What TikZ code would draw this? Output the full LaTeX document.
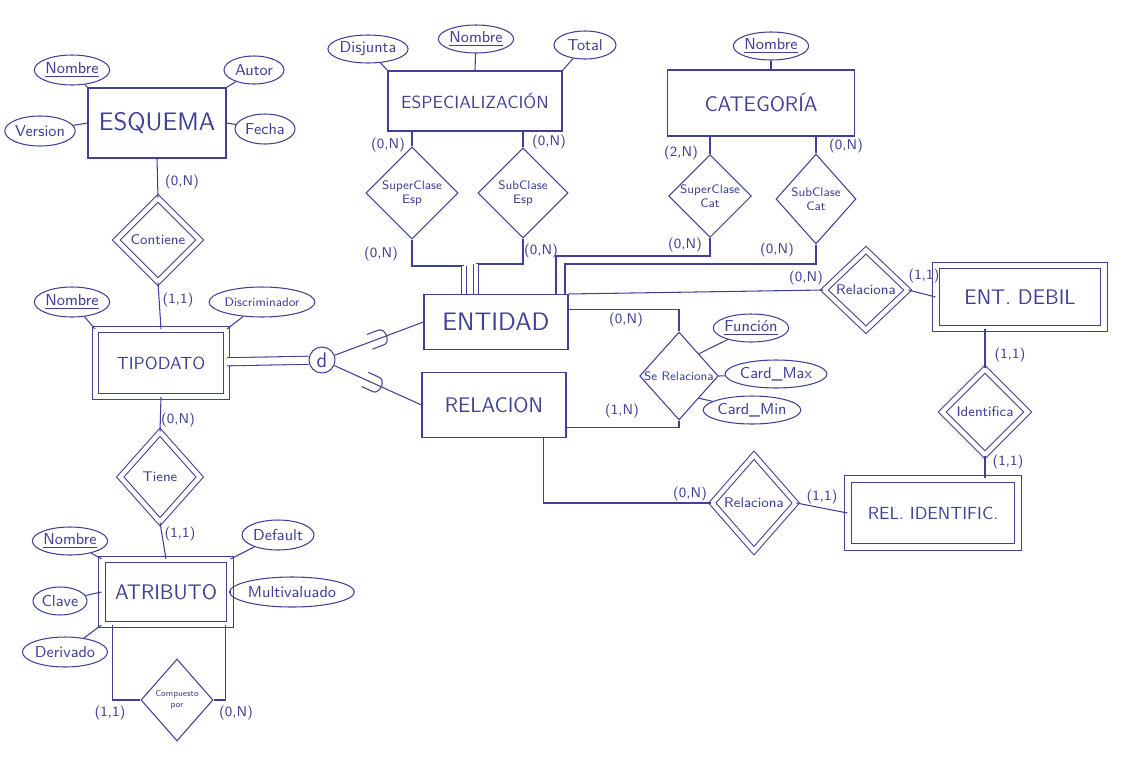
\documentclass[tikz,border=0pt]{standalone}
\usepackage{fontspec}
\renewcommand{\familydefault}{\sfdefault}
\usetikzlibrary{shapes.geometric}
\definecolor{ink}{RGB}{64,64,152}
\tikzset{
  ent/.style={draw, font=\large},
  dent/.style={ent, double, double distance=3pt},
  attr/.style={ellipse, draw, inner sep=0pt, font=\small},
  rel/.style={diamond, draw, aspect=1, inner sep=0pt, font=\scriptsize, align=center},
  drel/.style={rel, double, double distance=2.5pt, font=\footnotesize},
  card/.style={font=\footnotesize},
  subset/.style={sloped, rotate=90, font=\LARGE},
}
\begin{document}
\begin{tikzpicture}[x=0.02cm, y=-0.02cm, ink, line width=0.6pt]
        \useasboundingbox (0,0) rectangle (1127,765);

        % esquema
        \node[ent, font=\Large, minimum width=2.76cm, minimum height=1.4cm] (esq) at (157,123) {ESQUEMA};
        \node[attr, minimum width=1.4cm, minimum height=0.6cm] (esqnom) at (72,70) {\underline{Nombre}};
        \node[attr, minimum width=1.2cm, minimum height=0.56cm] (esqaut) at (254,70) {Autor};
        \node[attr, minimum width=1.32cm, minimum height=0.6cm] (esqver) at (40,131) {Version};
        \node[attr, minimum width=1.2cm, minimum height=0.6cm] (esqfec) at (265,129) {Fecha};
        \draw (esqnom) -- (esq.north west);
        \draw (esqaut) -- (esq.north east);
        \draw (esqver) -- (esq.west);
        \draw (esqfec) -- (esq.east);

        \node[drel, minimum width=1.68cm, minimum height=1.68cm] (cont) at (158,240) {Contiene};
        \draw (esq.south) -- (cont.north);
        \node[card] at (182,182) {(0,N)};

        % tipodato
        \node[dent, font=\normalsize, minimum width=2.62cm, minimum height=1.34cm] (tip) at (161,363) {TIPODATO};
        \node[attr, minimum width=1.4cm, minimum height=0.6cm] (tipnom) at (72,302) {\underline{Nombre}};
        \node[attr, font=\scriptsize, minimum width=2.0cm, minimum height=0.6cm] (tipdis) at (262,302) {Discriminador};
        \draw (tipnom) -- (tip.north west);
        \draw (tipdis) -- (tip.north east);
        \draw (cont.south) -- (tip.north);
        \node[card] at (178,300) {(1,1)};

        \node[circle, draw, inner sep=0pt, minimum size=0.52cm, font=\large] (dcirc) at (322,360) {d};
        \draw[double, double distance=4pt] (tip) -- (dcirc);

        % entidad / relacion
        \node[ent, font=\Large, minimum width=2.88cm, minimum height=1.1cm] (ent) at (496,322) {ENTIDAD};
        \node[ent, minimum width=2.88cm, minimum height=1.3cm] (rela) at (494,405) {RELACION};
        \draw (dcirc) -- node[subset, pos=0.5] {$\cup$} (ent.west);
        \draw (dcirc) -- node[subset, pos=0.45] {$\cup$} (rela.west);

        % especializacion
        \node[ent, font=\normalsize, minimum width=3.48cm, minimum height=1.2cm] (esp) at (475,101) {ESPECIALIZACIÓN};
        \node[attr, minimum width=1.28cm, minimum height=0.56cm] (espdis) at (368,49) {Disjunta};
        \node[attr, minimum width=1.4cm, minimum height=0.56cm] (espnom) at (476,39) {\underline{Nombre}};
        \node[attr, minimum width=1.24cm, minimum height=0.56cm] (esptot) at (585,45) {Total};
        \draw (espdis) -- (esp.north west);
        \draw (espnom) -- (esp.north);
        \draw (esptot) -- (esp.north east);

        \node[rel, minimum width=1.84cm, minimum height=1.84cm] (scesp) at (412,193) {SuperClase\\Esp};
        \node[rel, minimum width=1.8cm, minimum height=1.8cm] (sbesp) at (523,193) {SubClase\\Esp};
        \draw (scesp.north) -- (scesp.north |- esp.south);
        \draw (sbesp.north) -- (sbesp.north |- esp.south);
        \coordinate (jesp1) at (464,266);
        \coordinate (jesp2) at (476,264);
        \draw (scesp.south) |- (jesp1);
        \draw (sbesp.south) |- (jesp2);
        \draw[double, double distance=2.5pt] (jesp1) -- (jesp1 |- ent.north);
        \draw[double, double distance=2.5pt] (jesp2) -- (jesp2 |- ent.north);
        \node[card] at (388,145) {(0,N)};
        \node[card] at (381,254) {(0,N)};
        \node[card] at (549,142) {(0,N)};
        \node[card] at (541,251) {(0,N)};

        % categoria
        \node[ent, minimum width=3.74cm, minimum height=1.32cm] (cat) at (761,103) {CATEGORÍA};
        \node[attr, minimum width=1.32cm, minimum height=0.56cm] (catnom) at (771,46) {\underline{Nombre}};
        \draw (catnom) -- (catnom |- cat.north);

        \node[rel, minimum width=1.64cm, minimum height=1.64cm] (sccat) at (710,196) {SuperClase\\Cat};
        \node[rel, minimum width=1.6cm, minimum height=1.8cm] (sbcat) at (816,199) {SubClase\\Cat};
        \draw (sccat.north) -- (sccat.north |- cat.south);
        \draw (sbcat.north) -- (sbcat.north |- cat.south);
        \coordinate (jcat1) at (556,256);
        \coordinate (jcat2) at (565,264);
        \draw (sccat.south) |- (jcat1) -- (jcat1 |- ent.north);
        \draw (sbcat.south) |- (jcat2) -- (jcat2 |- ent.north);
        \node[card] at (681,153) {(2,N)};
        \node[card] at (846,146) {(0,N)};
        \node[card] at (685,245) {(0,N)};
        \node[card] at (777,250) {(0,N)};

        % entidad debil
        \node[drel, minimum width=1.68cm, minimum height=1.6cm] (relu) at (866,290) {Relaciona};
        \node[dent, minimum width=3.36cm, minimum height=1.26cm] (entd) at (1020,297) {ENT. DEBIL};
        \draw (ent.north east) -- (relu.west);
        \draw (relu.east) -- (entd.west);
        \node[card] at (806,278) {(0,N)};
        \node[card] at (924,276) {(1,1)};

        % se relaciona
        \node[rel, minimum width=1.56cm, minimum height=1.76cm] (serel) at (679,376) {Se Relaciona};
        \node[attr, minimum width=1.24cm, minimum height=0.56cm] (serfun) at (751,328) {\underline{Función}};
        \node[attr, minimum width=1.4cm, minimum height=0.56cm] (sermax) at (776,374) {Card\_Max};
        \node[attr, minimum width=1.32cm, minimum height=0.56cm] (sermin) at (752,410) {Card\_Min};
        \draw (serel.north) |- ([yshift=7pt]ent.east);
        \draw (serel.south) |- ([yshift=-13pt]rela.east);
        \draw (serfun) -- (serel.north east);
        \draw (sermax) -- (serel.east);
        \draw (sermin) -- (serel.south east);
        \node[card] at (626,320) {(0,N)};
        \node[card] at (622,411) {(1,N)};

        % rel. identific.
        \node[drel, minimum width=1.72cm, minimum height=1.72cm] (ident) at (985,412) {Identifica};
        \node[dent, font=\normalsize, minimum width=3.4cm, minimum height=1.36cm] (relid) at (933,513) {REL. IDENTIFIC.};
        \draw (ident.north) -- (ident.north |- entd.south);
        \draw (ident.south) -- (ident.south |- relid.north);
        \node[card] at (1010,355) {(1,1)};
        \node[card] at (1008,462) {(1,1)};

        \node[drel, minimum width=1.68cm, minimum height=1.92cm] (rell) at (754,503) {Relaciona};
        \draw (rell.west) -| ([xshift=28pt]rela.south);
        \draw (rell.east) -- (relid.west);
        \node[card] at (690,494) {(0,N)};
        \node[card] at (822,497) {(1,1)};

        % atributo
        \node[drel, minimum width=1.6cm, minimum height=1.8cm] (tiene) at (160,477) {Tiene};
        \node[dent, minimum width=2.56cm, minimum height=1.3cm] (atr) at (166,592) {ATRIBUTO};
        \draw (tip.south) -- (tiene.north);
        \draw (tiene.south) -- (atr.north);
        \node[card] at (178,420) {(0,N)};
        \node[card] at (180,534) {(1,1)};

        \node[attr, minimum width=1.28cm, minimum height=0.56cm] (atrnom) at (70,541) {\underline{Nombre}};
        \node[attr, minimum width=1.44cm, minimum height=0.6cm] (atrdef) at (278,535) {Default};
        \node[attr, minimum width=1.08cm, minimum height=0.56cm] (atrcla) at (60,601) {Clave};
        \node[attr, minimum width=2.08cm, minimum height=0.6cm] (atrmul) at (292,592) {Multivaluado};
        \node[attr, minimum width=1.32cm, minimum height=0.6cm] (atrder) at (65,652) {Derivado};
        \draw (atrnom) -- (atr.north west);
        \draw (atrdef) -- (atr.north east);
        \draw (atrcla) -- (atr.west);
        \draw (atrmul) -- (atr.east);
        \draw (atrder) -- (atr.south west);

        \node[rel, font=\tiny, minimum width=1.44cm, minimum height=1.64cm] (comp) at (177,700) {Compuesto\\por};
        \draw (comp.west) -| ([xshift=6pt]atr.south west);
        \draw (comp.east) -| ([xshift=-3pt]atr.south east);
        \node[card] at (110,713) {(1,1)};
        \node[card] at (236,713) {(0,N)};

    \end{tikzpicture}
\end{document}
